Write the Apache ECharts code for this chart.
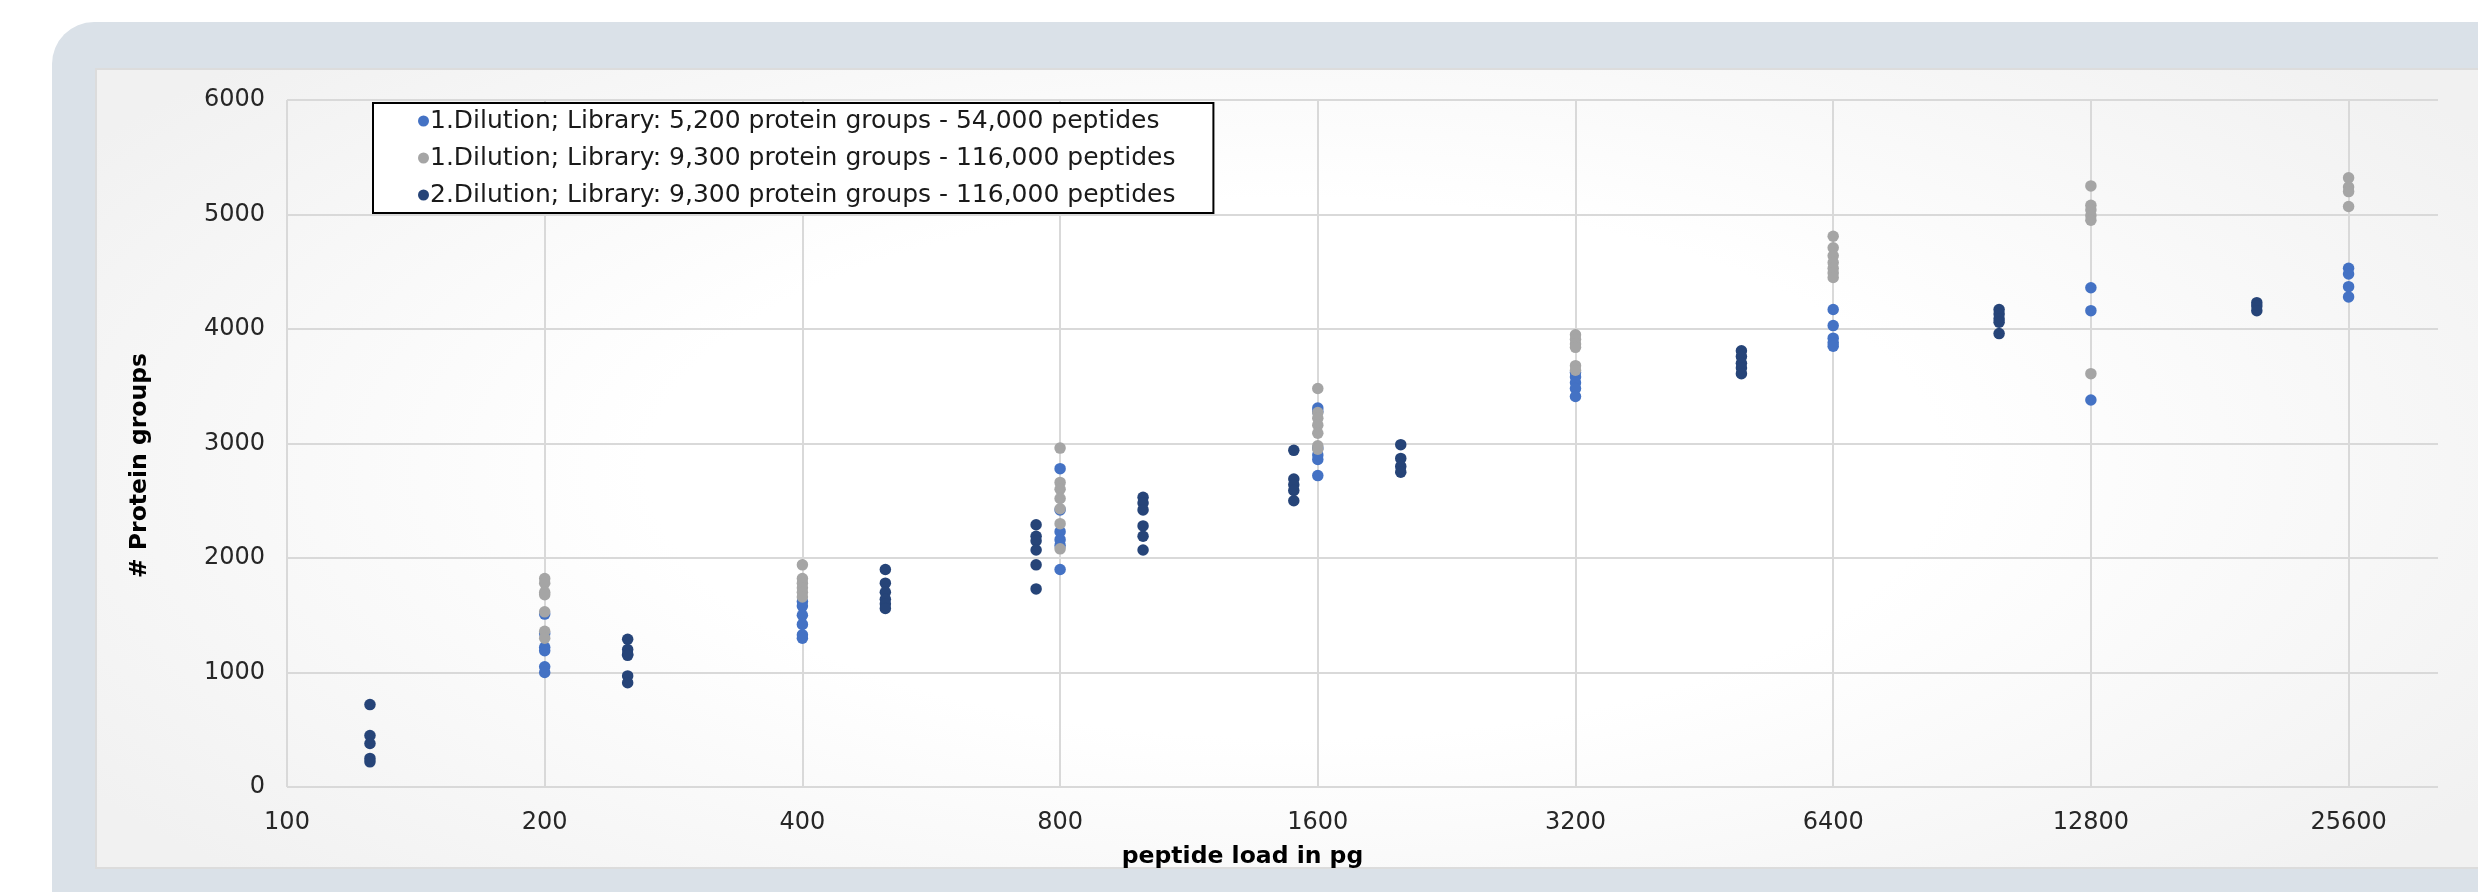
<!DOCTYPE html>
<html>
<head>
<meta charset="utf-8">
<script src="https://cdn.jsdelivr.net/npm/echarts@6/dist/echarts.min.js"></script>
<style>
  html, body { margin: 0; padding: 0; width: 2478px; height: 892px; overflow: hidden; background: #ffffff; }
  #panel { position: absolute; left: 52px; top: 22px; width: 2500px; height: 950px; background: #dae1e8; border-radius: 42px; }
  #inner { position: absolute; left: 95px; top: 68px; width: 2400px; height: 801px; box-sizing: border-box;
           border: 2px solid #dcdcdc; background: radial-gradient(ellipse 60% 75% at 50% 50%, #ffffff 45%, #f1f1f1 100%); }
  #chart { position: absolute; left: 0; top: 0; width: 2478px; height: 892px; }
</style>
</head>
<body>
<div id="panel"></div>
<div id="inner"></div>
<div id="chart"></div>
<script>
// ---- data (peptide load in pg, # protein groups) ----
const seriesNames = [
  '1.Dilution; Library: 5,200 protein groups - 54,000 peptides',
  '1.Dilution; Library: 9,300 protein groups - 116,000 peptides',
  '2.Dilution; Library: 9,300 protein groups - 116,000 peptides'
];
const xTickLabels = [100, 200, 400, 800, 1600, 3200, 6400, 12800, 25600];

const blueLoads = [200, 400, 800, 1600, 3200, 6400, 12800, 25600];
const blueGroups = [
  [1510, 1340, 1220, 1190, 1050, 1000],
  [1620, 1580, 1500, 1420, 1330, 1300],
  [2780, 2420, 2230, 2160, 2110, 1900],
  [3310, 3280, 2960, 2900, 2860, 2720],
  [3620, 3580, 3530, 3480, 3410],
  [4170, 4030, 3920, 3880, 3850],
  [4360, 4160, 3380],
  [4530, 4480, 4370, 4280]
];

const grayLoads = [200, 400, 800, 1600, 3200, 6400, 12800, 25600];
const grayGroups = [
  [1820, 1780, 1700, 1680, 1530, 1360, 1300],
  [1940, 1820, 1780, 1740, 1700, 1660],
  [2960, 2660, 2600, 2520, 2430, 2300, 2080],
  [3480, 3270, 3220, 3160, 3090, 2980, 2950],
  [3950, 3910, 3870, 3840, 3680, 3640],
  [4810, 4710, 4640, 4580, 4530, 4490, 4450],
  [5250, 5080, 5040, 4990, 4950, 3610],
  [5320, 5240, 5200, 5070]
];

const darkLoads = [125, 250, 500, 750, 1000, 1500, 2000, 5000, 10000, 20000];
const darkGroups = [
  [720, 450, 380, 250, 220],
  [1290, 1200, 1160, 1150, 970, 910],
  [1900, 1780, 1700, 1640, 1600, 1560],
  [2290, 2190, 2150, 2070, 1940, 1730],
  [2530, 2480, 2420, 2280, 2190, 2070],
  [2940, 2690, 2640, 2590, 2500],
  [2990, 2870, 2800, 2750],
  [3810, 3760, 3700, 3660, 3610],
  [4170, 4130, 4090, 4060, 3960],
  [4230, 4200, 4160]
];

// the log2 axis is expressed in units of 100 pg so that ticks fall on 100, 200, 400 ...
const UNIT = 100;
function pairs(loads, groups) {
  const out = [];
  loads.forEach(function (l, i) {
    groups[i].forEach(function (v) { out.push([l / UNIT, v]); });
  });
  return out;
}

const FONT = 'DejaVu Sans';
const chart = echarts.init(document.getElementById('chart'), null, { renderer: 'canvas' });
chart.setOption({
  backgroundColor: 'transparent',
  animation: false,
  textStyle: { fontFamily: FONT },
  grid: { left: 287, right: 40, top: 100, bottom: 105, containLabel: false },
  legend: {
    orient: 'vertical',
    left: 373, top: 103,
    backgroundColor: '#ffffff',
    borderColor: '#000000',
    borderWidth: 2,
    padding: [5, 38, 5, 45],
    itemGap: 11,
    itemWidth: 11, itemHeight: 11,
    icon: 'circle',
    textStyle: { fontFamily: FONT, fontSize: 25, lineHeight: 26, color: '#1a1a1a', padding: [0, 0, 0, -4] },
    data: seriesNames
  },
  xAxis: {
    type: 'log',
    logBase: 2,
    min: xTickLabels[0] / UNIT,
    max: 325.6,
    name: 'peptide load in pg',
    nameLocation: 'middle',
    nameGap: 58,
    nameTextStyle: { fontFamily: FONT, fontSize: 23.5, fontWeight: 'bold', color: '#000000', padding: [0, 240, 0, 0] },
    axisLine: { show: false },
    axisTick: { show: false },
    axisLabel: {
      fontFamily: FONT, fontSize: 24, color: '#262626', margin: 24,
      showMaxLabel: false,
      formatter: function (v) { return String(Math.round(v * UNIT)); }
    },
    splitLine: { show: true, showMaxLine: false, lineStyle: { color: '#d9d9d9', width: 2 } }
  },
  yAxis: {
    type: 'value',
    min: 0, max: 6000, interval: 1000,
    name: '# Protein groups',
    nameLocation: 'middle',
    nameGap: 135,
    nameRotate: 90,
    nameTextStyle: { fontFamily: FONT, fontSize: 23.5, fontWeight: 'bold', color: '#000000', padding: [0, 44, 0, 0] },
    axisLine: { show: false },
    axisTick: { show: false },
    axisLabel: { fontFamily: FONT, fontSize: 24, color: '#262626', margin: 22, formatter: function (v) { return String(v); } },
    splitLine: { show: true, lineStyle: { color: '#d9d9d9', width: 2 } }
  },
  series: [
    { name: seriesNames[0], type: 'scatter', symbolSize: 11.5, itemStyle: { color: '#4472c4', opacity: 1 }, data: pairs(blueLoads, blueGroups), z: 2 },
    { name: seriesNames[1], type: 'scatter', symbolSize: 11.5, itemStyle: { color: '#a5a5a5', opacity: 1 }, data: pairs(grayLoads, grayGroups), z: 3 },
    { name: seriesNames[2], type: 'scatter', symbolSize: 11.5, itemStyle: { color: '#264478', opacity: 1 }, data: pairs(darkLoads, darkGroups), z: 4 }
  ]
});
</script>
</body>
</html>
